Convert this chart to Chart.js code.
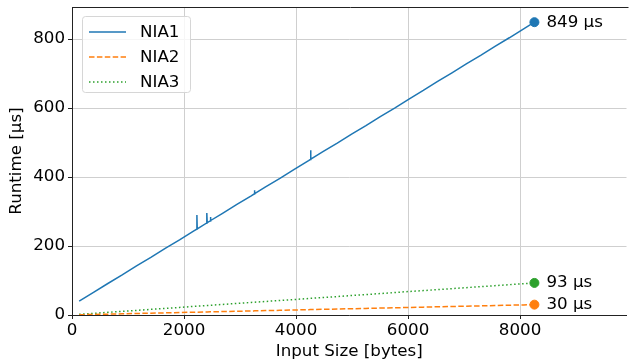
<!DOCTYPE html>
<html><head><meta charset="utf-8">
<script src="https://cdn.jsdelivr.net/npm/chart.js@4/dist/chart.umd.min.js"></script>
<style>html,body{margin:0;padding:0;background:#fff}#wrap{width:632px;height:364px}</style>
</head><body><div id="wrap"><canvas id="c" width="632" height="364"></canvas></div>
<script>
const seriesNames = ["NIA1", "NIA2", "NIA3"];
const inputSizes = [128,384,640,896,1152,1408,1664,1920,2176,2224,2230,2236,2400,2407,2414,2466,2472,2478,2688,2944,3200,3250,3257,3264,3456,3712,3968,4224,4254,4260,4266,4480,4736,4992,5248,5504,5760,6016,6272,6528,6784,7040,7296,7552,7808,8064,8256];
const nia1 = [40.0,65.8,91.3,116.2,142.4,167.0,193.3,218.0,244.1,248.6,290,249.8,266.1,296,267.5,272.7,284,273.9,294.6,320.5,345.4,350.7,362,352.1,371.5,396.3,422.4,447.3,450.6,478,451.8,473.4,498.2,524.3,549.1,575.3,600.1,626.2,651.0,677.1,702.0,728.1,752.9,779.0,803.8,829.9,849];
const nia2 = [0.7,1.6,2.5,3.4,4.4,5.3,6.2,7.1,8.1,8.2,8.2,8.3,8.9,8.9,8.9,9.1,9.1,9.1,9.9,10.8,11.8,11.9,12.0,12.0,12.7,13.6,14.5,15.4,15.6,15.6,15.6,16.4,17.3,18.2,19.1,20.1,21.0,21.9,22.8,23.8,24.7,25.6,26.5,27.5,28.4,29.3,30];
const nia3 = [1.9,4.8,7.7,10.5,13.4,16.3,19.1,22.0,24.9,25.4,25.5,25.5,27.4,27.5,27.5,28.1,28.2,28.3,30.6,33.5,36.5,36.9,37.0,37.1,39.2,42.1,44.9,47.8,48.1,48.2,48.3,50.7,53.5,56.4,59.3,62.1,65.0,68.2,70.7,73.6,76.5,79.3,82.2,85.1,87.9,90.8,93];
const xTicks = [0,2000,4000,6000,8000];
const yTicks = [0,200,400,600,800];
const endLabels = ["849 µs", "30 µs", "93 µs"];

const colors = ["#1f77b4", "#ff7f0e", "#2ca02c"];
const dashes = [[], [5.5, 2.4], [1.5, 2.5]];
const allSeries = [nia1, nia2, nia3];
const FONT = "'DejaVu Sans', sans-serif";
const FS = 16.7;

const datasets = allSeries.map((s, i) => ({
  label: seriesNames[i],
  data: inputSizes.map((x, j) => ({x: x, y: s[j]})),
  borderColor: colors[i],
  backgroundColor: colors[i],
  borderWidth: 1.5,
  borderDash: dashes[i],
  pointRadius: 0,
  tension: 0,
  isSeries: true
}));
allSeries.forEach((s, i) => {
  datasets.push({
    label: seriesNames[i] + " end",
    type: 'scatter',
    data: [{x: inputSizes[inputSizes.length - 1], y: s[s.length - 1]}],
    backgroundColor: colors[i],
    borderColor: colors[i],
    pointRadius: 4.5,
    endLabel: endLabels[i]
  });
});

const framePlugin = {
  id: 'frame',
  afterDatasetsDraw(chart) {
    const {ctx, chartArea: a} = chart;
    ctx.save();
    ctx.strokeStyle = '#222';
    ctx.lineWidth = 1;
    ctx.beginPath();
    ctx.moveTo(Math.round(a.left) + 0.5, Math.round(a.top) + 0.5);
    ctx.lineTo(a.right + 2, Math.round(a.top) + 0.5);
    ctx.stroke();
    ctx.font = FS + 'px ' + FONT;
    ctx.fillStyle = '#000';
    ctx.textBaseline = 'middle';
    ctx.textAlign = 'left';
    chart.data.datasets.forEach((ds, i) => {
      if (!ds.endLabel) return;
      const p = chart.getDatasetMeta(i).data[0];
      ctx.fillText(ds.endLabel, p.x + 12, p.y);
    });
    const lx = 82, ly = 16, lw = 108, lh = 76;
    ctx.beginPath();
    ctx.roundRect(lx + 0.5, ly + 0.5, lw, lh, 3);
    ctx.fillStyle = 'rgba(255,255,255,0.8)';
    ctx.fill();
    ctx.strokeStyle = '#d6d6d6';
    ctx.stroke();
    chart.data.datasets.forEach((ds, i) => {
      if (!ds.isSeries) return;
      const y = 32 + i * 25;
      ctx.beginPath();
      ctx.setLineDash(ds.borderDash);
      ctx.strokeStyle = ds.borderColor;
      ctx.lineWidth = 1.5;
      ctx.moveTo(89, y);
      ctx.lineTo(126, y);
      ctx.stroke();
      ctx.setLineDash([]);
      ctx.fillStyle = '#000';
      ctx.fillText(ds.label, 140, y + 1);
    });
    ctx.restore();
  }
};

new Chart(document.getElementById('c'), {
  type: 'line',
  data: {datasets},
  options: {
    responsive: false,
    animation: false,
    events: [],
    layout: {padding: {top: 7, right: 0, left: 0, bottom: 0}},
    plugins: {legend: {display: false}, tooltip: {enabled: false}},
    scales: {
      x: {
        type: 'linear', min: 0, max: 9900,
        afterBuildTicks(axis) { axis.ticks = xTicks.map(v => ({value: v})); },
        afterFit(scale) { scale.height = 49; scale.paddingRight = 0; scale.paddingLeft = 0; },
        grid: {color: '#cfcfcf', lineWidth: 1, tickColor: '#222', tickLength: 4, drawTicks: true},
        border: {color: '#222', width: 1},
        ticks: {font: {family: FONT, size: FS}, color: '#000', padding: 2, maxRotation: 0, callback: v => String(v)},
        title: {display: true, text: 'Input Size [bytes]', font: {family: FONT, size: FS}, color: '#000', padding: {top: 0, bottom: 2}}
      },
      y: {
        type: 'linear', min: 0, max: 893,
        afterBuildTicks(axis) { axis.ticks = yTicks.map(v => ({value: v})); },
        afterFit(scale) { scale.width = 72; scale.paddingTop = 0; scale.paddingBottom = 0; },
        grid: {color: '#cfcfcf', lineWidth: 1, tickColor: '#222', tickLength: 4, drawTicks: true},
        border: {color: '#222', width: 1},
        ticks: {font: {family: FONT, size: FS}, color: '#000', padding: 3, callback: v => String(v)},
        title: {display: true, text: 'Runtime [µs]', font: {family: FONT, size: FS}, color: '#000', padding: {top: 7, bottom: 0}}
      }
    }
  },
  plugins: [framePlugin]
});
</script>
</body></html>
